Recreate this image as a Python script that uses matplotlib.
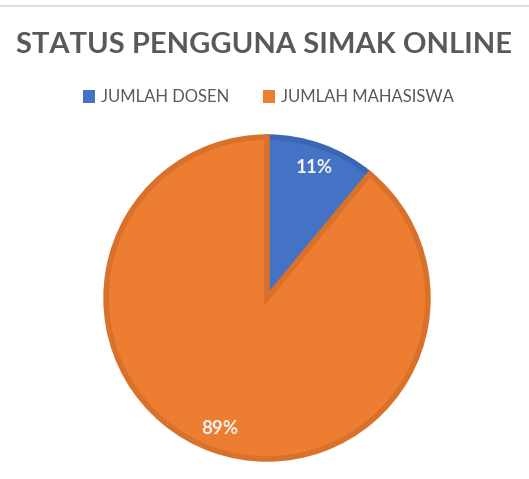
import matplotlib.pyplot as plt
from matplotlib.patches import Patch

labels = ['JUMLAH DOSEN', 'JUMLAH MAHASISWA']
values = [11, 89]
colors = ['#4472C4', '#ED7D31']
edges = ['#3B66B4', '#D9712B']

fig = plt.figure(figsize=(5.29, 4.79), dpi=100)
fig.patch.set_facecolor('white')

# thin grey border line at top
fig.add_artist(plt.Line2D([0, 1], [0.987, 0.987], color='#D9D9D9', lw=1.2))

fig.text(0.5, 0.906, 'STATUS PENGGUNA SIMAK ONLINE', ha='center', va='center',
         fontsize=21, fontweight='bold', color='#595959', family='Lato')

ax = fig.add_axes([0.2004, 0.0418, 0.6087, 0.672])
wedges, texts, autotexts = ax.pie(values, colors=colors, startangle=90, counterclock=False,
                                  autopct='%d%%', pctdistance=0.86,
                                  wedgeprops=dict(linewidth=4))
ax.set_xlim(-1, 1)
ax.set_ylim(-1, 1)
for w, ec in zip(wedges, edges):
    w.set_edgecolor(ec)
    w.set_clip_on(False)
for t in autotexts:
    t.set_color('#F2F2F2')
    t.set_fontweight('bold')
    t.set_fontsize(13.5)
    t.set_family('Lato')

handles = [Patch(facecolor=c, edgecolor='none') for c in colors]
leg = fig.legend(handles, labels, loc='center', bbox_to_anchor=(0.507, 0.797), ncol=2,
                 frameon=False, handlelength=0.75, handleheight=0.75, handletextpad=0.35,
                 columnspacing=2.0, prop={'family': 'Lato', 'size': 12})
for t in leg.get_texts():
    t.set_color('#595959')

fig.savefig('out.png', dpi=100)
